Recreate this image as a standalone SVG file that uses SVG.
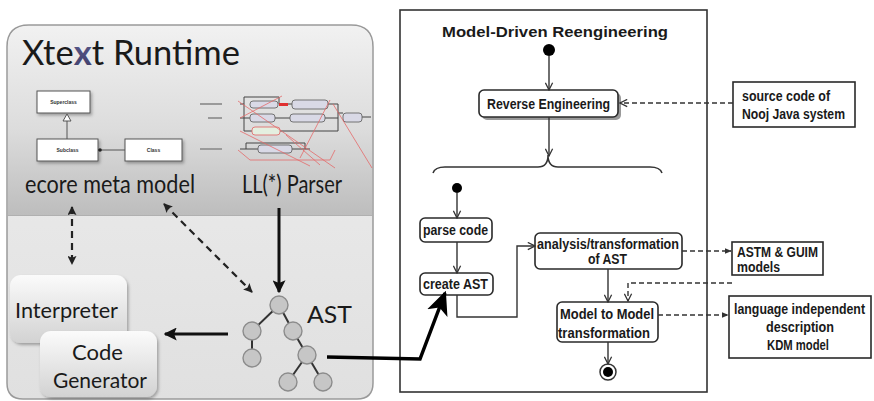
<svg xmlns="http://www.w3.org/2000/svg" width="874" height="401" viewBox="0 0 874 401">
  <defs>
    <style>
      .gill { font-family: Lato, "Open Sans", "DejaVu Sans", sans-serif; fill: #1a1a1a; }
      .uml { font-family: "Liberation Sans", Arial, sans-serif; font-size: 5px; font-weight: bold; fill: #333; text-anchor: middle; }
      .act { font-family: "Liberation Sans", Arial, sans-serif; font-weight: bold; font-size: 14.5px; fill: #1a1a1a; }
      .box { fill: #ffffff; stroke: #2a2a2a; stroke-width: 1.6; }
      .note { fill: #ffffff; stroke: #2a2a2a; stroke-width: 1.6; }
      .flow { fill: none; stroke: #333; stroke-width: 1.4; }
      .dash { fill: none; stroke: #333; stroke-width: 1.4; stroke-dasharray: 5 3; }
      .ldash { fill: none; stroke: #222; stroke-width: 2.2; stroke-dasharray: 7 5; }
      .lsolid { fill: none; stroke: #111; stroke-width: 3; }
      .astn { fill: #c6c6c6; stroke: #8c8c8c; stroke-width: 1.4; }
      .aste { stroke: #333; stroke-width: 2; }
      .rr { fill: #d9d9e6; stroke: #666; stroke-width: 0.9; }
      .rrline { fill: none; stroke: #444; stroke-width: 1; }
      .rred { fill: none; stroke: #e56a6a; stroke-width: 0.8; }
      .umlbox { fill: #fff; stroke: #555; stroke-width: 1; }
      .rlabel { stroke: #9a9a9a; stroke-width: 2; }
    </style>
    <linearGradient id="bandGrad" x1="0" y1="0" x2="0" y2="1">
      <stop offset="0" stop-color="#f1f1f1"/>
      <stop offset="0.55" stop-color="#dcdcdc"/>
      <stop offset="1" stop-color="#bdbdbd"/>
    </linearGradient>
    <linearGradient id="lowGrad" x1="0" y1="0" x2="0" y2="1">
      <stop offset="0" stop-color="#efefef"/>
      <stop offset="1" stop-color="#e0e0e0"/>
    </linearGradient>
    <linearGradient id="btnGrad" x1="0" y1="0" x2="0" y2="1">
      <stop offset="0" stop-color="#fbfbfb"/>
      <stop offset="1" stop-color="#d2d2d2"/>
    </linearGradient>
    <linearGradient id="logoGrad" x1="0" y1="0" x2="1" y2="1">
      <stop offset="0" stop-color="#6a6aa0"/>
      <stop offset="1" stop-color="#25254a"/>
    </linearGradient>
    <marker id="vee" viewBox="0 0 10 10" refX="9" refY="5" markerWidth="9" markerHeight="9" markerUnits="userSpaceOnUse" orient="auto">
      <path d="M1,1 L9,5 L1,9" fill="none" stroke="#333" stroke-width="1.4"/>
    </marker>
    <marker id="sfill" viewBox="0 0 10 10" refX="9" refY="5" markerWidth="7" markerHeight="7" markerUnits="userSpaceOnUse" orient="auto">
      <path d="M0,1 L10,5 L0,9 Z" fill="#333"/>
    </marker>
    <marker id="lhead" viewBox="0 0 10 10" refX="9" refY="5" markerWidth="13" markerHeight="13" markerUnits="userSpaceOnUse" orient="auto">
      <path d="M0,0 L10,5 L0,10 L2,5 Z" fill="#111"/>
    </marker>
    <marker id="dhead" viewBox="0 0 10 10" refX="9" refY="5" markerWidth="9" markerHeight="9" markerUnits="userSpaceOnUse" orient="auto-start-reverse">
      <path d="M0,0 L10,5 L0,10 L2,5 Z" fill="#222"/>
    </marker>
    <marker id="bighead" viewBox="0 0 10 10" refX="9" refY="5" markerWidth="24" markerHeight="24" markerUnits="userSpaceOnUse" orient="auto">
      <path d="M0,0.5 L10,5 L0,9.5 L2.5,5 Z" fill="#000"/>
    </marker>
    <filter id="soft" x="-10%" y="-10%" width="130%" height="130%">
      <feDropShadow dx="1.5" dy="2" stdDeviation="1.5" flood-color="#000" flood-opacity="0.3"/>
    </filter>
  </defs>

  <rect width="874" height="401" fill="#ffffff"/>

  <!-- Xtext runtime panel -->
  <g id="xtext-runtime">
    <path d="M7,47 Q7,25 29,25 L351,25 Q373,25 373,47 L373,383 Q373,399 357,399 L23,399 Q7,399 7,383 Z" fill="url(#lowGrad)" stroke="#9a9a9a" stroke-width="1.5"/>
    <path d="M8,215 L8,47 Q8,26 29,26 L351,26 Q372,26 372,47 L372,215 Z" fill="url(#bandGrad)"/>
    <line x1="8" y1="215.5" x2="372" y2="215.5" stroke="#b0b0b0" stroke-width="1"/>
    <text class="gill" x="22" y="65" font-size="35" textLength="218" lengthAdjust="spacingAndGlyphs">Xte<tspan fill="url(#logoGrad)" font-weight="bold">x</tspan>t Runtime</text>
  </g>

  <!-- ecore meta model -->
  <g id="ecore">
    <g filter="url(#soft)">
      <rect class="umlbox" x="37" y="91" width="53" height="22"/>
      <rect class="umlbox" x="37" y="139" width="61" height="22"/>
      <rect class="umlbox" x="125" y="139" width="57" height="22"/>
    </g>
    <text class="uml" x="63.5" y="104">Superclass</text>
    <text class="uml" x="67.5" y="152">Subclass</text>
    <text class="uml" x="153.5" y="152">Class</text>
    <line x1="67" y1="139" x2="67" y2="121" stroke="#555" stroke-width="1"/>
    <path d="M67,114 L71,121 L63,121 Z" fill="#fff" stroke="#555" stroke-width="1"/>
    <line x1="98" y1="150" x2="125" y2="150" stroke="#555" stroke-width="1"/>
    <circle cx="100" cy="150" r="1.8" fill="#222"/>
    <text class="gill" x="25" y="193" font-size="25" textLength="170" lengthAdjust="spacingAndGlyphs">ecore meta model</text>
  </g>

  <!-- LL(*) parser -->
  <g id="parser">
    <path class="rrline" d="M240,104 L244,104 L244,97 L279,97 L279,104 L292,104"/>
    <path class="rrline" d="M240,118 L250,118 M275,118 L290,118 M325,118 L338,118 L338,113 L343,113 M362,117 L371,117"/>
    <path class="rrline" d="M244,104 L244,131 L252,131 M280,131 L338,131 L338,118"/>
    <path class="rrline" d="M240,149 L258,149 M292,149 L310,149 M246,149 L246,143 L305,143 L305,149 M328,104 L338,104 L338,113"/>
    <rect class="rr" x="250" y="101" width="28" height="7" rx="3"/>
    <rect class="rr" x="292" y="100" width="36" height="9" rx="3"/>
    <rect class="rr" x="250" y="114" width="25" height="8" rx="3"/>
    <rect class="rr" x="290" y="114" width="35" height="8" rx="3"/>
    <rect class="rr" x="343" y="113" width="19" height="9" rx="3"/>
    <rect x="252" y="127" width="28" height="8" rx="3" fill="#e4efe0" stroke="#e07070" stroke-width="0.9"/>
    <rect class="rr" x="258" y="145" width="34" height="8" rx="3"/>
    <rect x="279" y="103" width="9" height="3" fill="#e03030"/>
    <path class="rred" d="M238,101 L335,168 M240,118 L282,96 M330,100 L300,158 M333,104 L372,168 M240,131 L310,166 M238,150 L250,160 L330,160 L335,150 M286,135 L320,165"/>
    <path class="rlabel" d="M200,104 L222,104 M208,118 L222,118 M200,149 L222,149"/>
    <text class="gill" x="242" y="193" font-size="25" textLength="100" lengthAdjust="spacingAndGlyphs">LL(*) Parser</text>
  </g>

  <!-- Interpreter and Code Generator -->
  <g id="interpreter">
    <rect x="10" y="275" width="117" height="68" rx="11" fill="url(#btnGrad)" filter="url(#soft)"/>
    <text class="gill" x="15" y="318" font-size="22" textLength="103" lengthAdjust="spacingAndGlyphs">Interpreter</text>
  </g>
  <g id="code-generator">
    <rect x="40" y="331" width="117" height="66" rx="11" fill="url(#btnGrad)" filter="url(#soft)"/>
    <text class="gill" x="72" y="360" font-size="22" textLength="51" lengthAdjust="spacingAndGlyphs">Code</text>
    <text class="gill" x="53" y="388" font-size="22" textLength="94" lengthAdjust="spacingAndGlyphs">Generator</text>
  </g>

  <!-- AST tree -->
  <g id="ast">
    <line class="aste" x1="279" y1="305" x2="252" y2="331"/>
    <line class="aste" x1="279" y1="305" x2="293" y2="331"/>
    <line class="aste" x1="252" y1="331" x2="252" y2="358"/>
    <line class="aste" x1="293" y1="331" x2="307" y2="355"/>
    <line class="aste" x1="307" y1="355" x2="288" y2="382"/>
    <line class="aste" x1="307" y1="355" x2="323" y2="382"/>
    <circle class="astn" cx="279" cy="305" r="9"/>
    <circle class="astn" cx="252" cy="331" r="9"/>
    <circle class="astn" cx="293" cy="331" r="9"/>
    <circle class="astn" cx="252" cy="358" r="9"/>
    <circle class="astn" cx="307" cy="355" r="9"/>
    <circle class="astn" cx="288" cy="382" r="9"/>
    <circle class="astn" cx="323" cy="382" r="9"/>
    <text class="gill" x="307" y="323" font-size="24" textLength="45" lengthAdjust="spacingAndGlyphs">AST</text>
  </g>

  <!-- Model-Driven Reengineering frame -->
  <g id="mdr-frame">
    <rect x="400" y="10" width="307" height="382" fill="none" stroke="#333" stroke-width="1.6"/>
    <text class="act" x="442" y="37" font-size="17" textLength="226" lengthAdjust="spacingAndGlyphs">Model-Driven Reengineering</text>
    <circle cx="549" cy="50" r="6" fill="#000"/>
    <path d="M433,173 Q435,167 445,167 L538,167 Q548,167 548,155 Q548,167 558,167 L650,167 Q660,167 662,173" fill="none" stroke="#333" stroke-width="1.5"/>
    <circle cx="457" cy="188" r="5" fill="#000"/>
  </g>

  <g id="reverse-engineering">
    <rect x="482" y="93" width="139" height="27" rx="5" fill="#999"/>
    <rect class="box" x="479" y="90" width="139" height="27" rx="5"/>
    <text class="act" x="487" y="109" textLength="123" lengthAdjust="spacingAndGlyphs">Reverse Engineering</text>
  </g>

  <g id="source-code">
    <rect class="note" x="733" y="82" width="122" height="45"/>
    <text class="act" x="742" y="101" textLength="88" lengthAdjust="spacingAndGlyphs">source code of</text>
    <text class="act" x="742" y="119" textLength="103" lengthAdjust="spacingAndGlyphs">Nooj Java system</text>
  </g>

  <g id="parse-code">
    <rect class="box" x="420" y="218" width="72" height="24" rx="5"/>
    <text class="act" x="423" y="235" textLength="65" lengthAdjust="spacingAndGlyphs">parse code</text>
  </g>

  <g id="create-ast">
    <rect class="box" x="420" y="273" width="73" height="22" rx="5"/>
    <text class="act" x="423" y="289" textLength="65" lengthAdjust="spacingAndGlyphs">create AST</text>
  </g>

  <g id="analysis">
    <rect class="box" x="535" y="233" width="147" height="36" rx="5"/>
    <text class="act" x="537" y="249" textLength="142" lengthAdjust="spacingAndGlyphs">analysis/transformation</text>
    <text class="act" x="588" y="264" textLength="39" lengthAdjust="spacingAndGlyphs">of AST</text>
  </g>

  <g id="astm-guim">
    <rect class="note" x="732" y="242" width="91" height="33"/>
    <text class="act" x="737" y="257" textLength="81" lengthAdjust="spacingAndGlyphs">ASTM &amp; GUIM</text>
    <text class="act" x="737" y="272" textLength="43" lengthAdjust="spacingAndGlyphs">models</text>
  </g>

  <g id="model-to-model">
    <rect class="box" x="557" y="302" width="101" height="40" rx="5"/>
    <text class="act" x="560" y="319" textLength="94" lengthAdjust="spacingAndGlyphs">Model to Model</text>
    <text class="act" x="558" y="338" textLength="92" lengthAdjust="spacingAndGlyphs">transformation</text>
  </g>

  <g id="kdm">
    <rect class="note" x="729" y="296" width="142" height="62"/>
    <text class="act" x="734" y="314" font-size="12" textLength="131" lengthAdjust="spacingAndGlyphs">language independent</text>
    <text class="act" x="766" y="332" textLength="68" lengthAdjust="spacingAndGlyphs">description</text>
    <text class="act" x="767" y="350" textLength="62" lengthAdjust="spacingAndGlyphs">KDM model</text>
  </g>

  <g id="final-node">
    <circle cx="608" cy="372" r="8" fill="#fff" stroke="#333" stroke-width="1.5"/>
    <circle cx="608" cy="372" r="5" fill="#000"/>
  </g>

  <!-- connectors -->
  <g id="connectors">
    <line class="ldash" x1="72" y1="207" x2="72" y2="264" marker-start="url(#dhead)" marker-end="url(#dhead)"/>
    <line class="ldash" x1="164" y1="204" x2="252" y2="292" marker-start="url(#dhead)" marker-end="url(#dhead)"/>
    <line class="lsolid" x1="279" y1="208" x2="279" y2="292" marker-end="url(#lhead)"/>
    <line class="lsolid" x1="228" y1="334" x2="165" y2="334" marker-end="url(#lhead)"/>
    <polyline points="327,357 420,359 445,293" fill="none" stroke="#000" stroke-width="3.5" stroke-linejoin="miter" marker-end="url(#bighead)"/>

    <line class="flow" x1="549" y1="56" x2="549" y2="90" marker-end="url(#vee)"/>
    <line class="flow" x1="549" y1="117" x2="549" y2="156" marker-end="url(#vee)"/>
    <line class="dash" x1="733" y1="103" x2="620" y2="103" marker-end="url(#vee)"/>
    <line class="flow" x1="457" y1="193" x2="457" y2="218" marker-end="url(#vee)"/>
    <line class="flow" x1="457" y1="242" x2="457" y2="273" marker-end="url(#vee)"/>
    <polyline class="flow" points="457,295 457,317 517,317 517,246 535,246" marker-end="url(#vee)"/>
    <line class="dash" x1="682" y1="251" x2="731" y2="251" marker-end="url(#sfill)"/>
    <polyline class="dash" points="732,283 628,283 628,301" marker-end="url(#vee)"/>
    <line class="flow" x1="608" y1="269" x2="608" y2="302" marker-end="url(#vee)"/>
    <line class="dash" x1="658" y1="315" x2="728" y2="315" marker-end="url(#sfill)"/>
    <line class="flow" x1="608" y1="342" x2="608" y2="364" marker-end="url(#vee)"/>
  </g>
</svg>
